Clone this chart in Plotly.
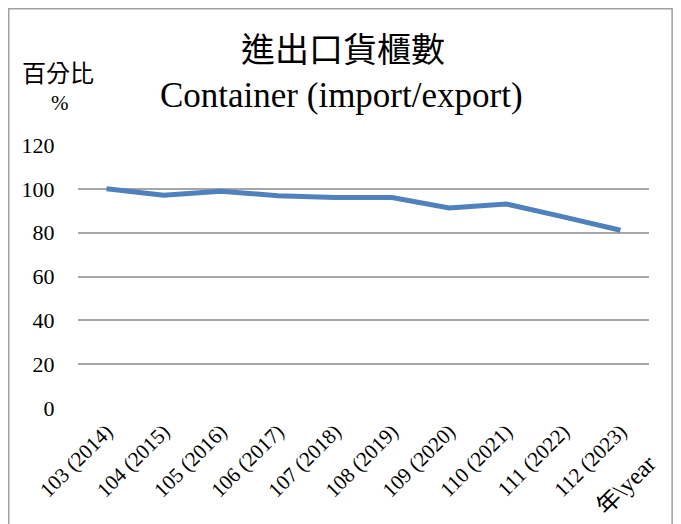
import plotly.graph_objects as go

categories = ["103 (2014)", "104 (2015)", "105 (2016)", "106 (2017)", "107 (2018)",
              "108 (2019)", "109 (2020)", "110 (2021)", "111 (2022)", "112 (2023)"]
values = [100, 97.1, 98.9, 96.9, 96, 96, 91.3, 93.1, 87.2, 81.1]
y_ticks = [0, 20, 40, 60, 80, 100, 120]

title_zh = "進出口貨櫃數"
title_en = "Container (import/export)"
y_title_zh = "百分比"
y_title_unit = "%"
x_title = "年\\year"

SERIF = "Liberation Serif, Noto Sans CJK TC, serif"
CJK = "Noto Sans CJK TC, Liberation Serif, serif"

fig = go.Figure()
fig.add_trace(go.Scatter(
    x=categories, y=values, mode="lines",
    line=dict(color="#4F81BD", width=5),
    hoverinfo="skip", showlegend=False,
))

fig.update_layout(
    width=665, height=516,
    margin=dict(l=70, r=24, t=137, b=116),
    paper_bgcolor="white", plot_bgcolor="white",
    font=dict(family=SERIF, color="black", size=20),
    xaxis=dict(
        type="category", tickangle=-45, showgrid=False, zeroline=False,
        showline=False, ticks="", tickfont=dict(family=SERIF, size=21),
        ticklabelstandoff=6,
        range=[-0.5, len(categories) - 0.5],
    ),
    yaxis=dict(
        range=[0, 120], tickvals=y_ticks, showgrid=True, gridcolor="#A6A6A6",
        gridwidth=1.6, zeroline=False, showline=False,
        ticks="outside", ticklen=18, tickcolor="rgba(0,0,0,0)",
        tickfont=dict(family=SERIF, size=22),
    ),
    shapes=[dict(
        type="rect", xref="paper", yref="paper",
        x0=-0.1213, x1=1.0405, y0=-0.5, y1=1.518,
        line=dict(color="#A0A0A0", width=1.5), fillcolor="rgba(0,0,0,0)",
    )],
    annotations=[
        dict(text=title_zh, xref="paper", yref="paper", x=0.464, y=1.369,
             showarrow=False, font=dict(family=CJK, size=34), xanchor="center", yanchor="middle"),
        dict(text=title_en, xref="paper", yref="paper", x=0.461, y=1.19,
             showarrow=False, font=dict(family=SERIF, size=35), xanchor="center", yanchor="middle"),
        dict(text=y_title_zh, xref="paper", yref="paper", x=-0.035, y=1.278,
             showarrow=False, font=dict(family=CJK, size=24), xanchor="center", yanchor="middle"),
        dict(text=y_title_unit, xref="paper", yref="paper", x=-0.0315, y=1.16,
             showarrow=False, font=dict(family=SERIF, size=21), xanchor="center", yanchor="middle"),
        dict(text=x_title, xref="paper", yref="paper", x=0.96, y=-0.293, textangle=-45,
             showarrow=False, font=dict(family=SERIF, size=24), xanchor="center", yanchor="middle"),
    ],
)

fig.write_html("out.html")
